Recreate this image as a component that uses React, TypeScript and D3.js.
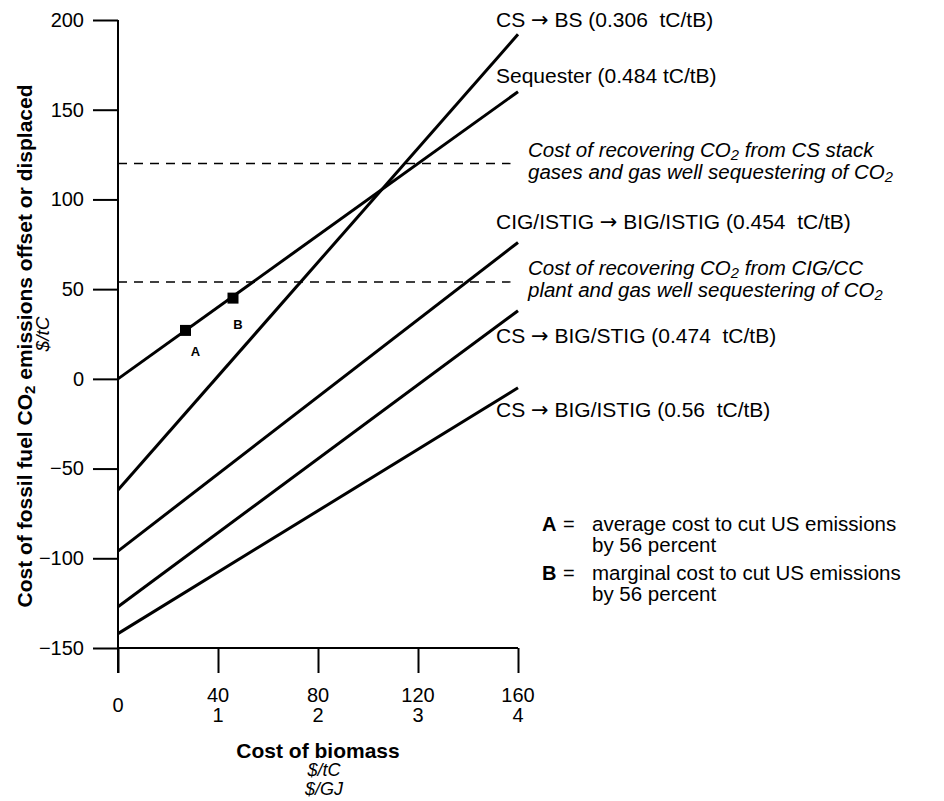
import { useEffect, useRef } from "react";
import * as d3 from "d3";

// line labels, cost of offset at biomass = 0 and at biomass = 160 $/tC
const seriesNames = [
  "CS → BS (0.306  tC/tB)",
  "Sequester (0.484 tC/tB)",
  "CIG/ISTIG → BIG/ISTIG (0.454  tC/tB)",
  "CS → BIG/STIG (0.474  tC/tB)",
  "CS → BIG/ISTIG (0.56  tC/tB)",
];
const startCost = [-62, 0, -96, -127, -142];
const endCost = [192, 160, 76, 38, -5];

// dashed reference costs and their notes
const dashedCost = [120, 54];
const dashedEnd = [157, 157];
const dashedNotes = [
  ["Cost of recovering CO2 from CS stack", "gases and gas well sequestering of CO2"],
  ["Cost of recovering CO2 from CIG/CC", "plant and gas well sequestering of CO2"],
];

// points A and B on the Sequester line
const pointNames = ["A", "B"];
const pointBiomass = [27, 46];
const pointCost = [27, 45];
const legendText = [
  ["average cost to cut US emissions", "by 56 percent"],
  ["marginal cost to cut US emissions", "by 56 percent"],
];

const yTicks = [200, 150, 100, 50, 0, -50, -100, -150];
const xTicksTC = [0, 40, 80, 120, 160];
const xTicksGJ = ["", "1", "2", "3", "4"];

const FONT = "'Liberation Sans', Arial, sans-serif";

// writes text lines into one <text>, with "CO2" subscripted
const addLines = (sel: any, lines: string[], x0: number, lh: number) => {
  lines.forEach((str, k) => {
    const parts = str.split("CO2");
    parts.forEach((p, i) => {
      if (i > 0) {
        sel.append("tspan").attr("dy", 3).attr("font-size", "0.72em").text("2");
        sel.append("tspan").attr("dy", -3).text(p);
      } else {
        sel.append("tspan").attr("x", x0).attr("dy", k === 0 ? 0 : lh).text(p);
      }
      if (i < parts.length - 1) sel.append("tspan").text("CO");
    });
  });
};

// writes a label, arrow drawn in DejaVu so it keeps its size
const addLabel = (sel: any, str: string) => {
  const parts = str.split("→");
  parts.forEach((p, i) => {
    if (i > 0) sel.append("tspan").attr("font-family", "'DejaVu Sans'").text("→");
    sel.append("tspan").text(p);
  });
};

const Chart = () => {
  const ref = useRef<SVGSVGElement | null>(null);

  const drawChart = () => {
    const svg = d3.select(ref.current);
    svg.selectAll("*").remove();

    const x = d3.scaleLinear().domain([0, 160]).range([118, 518]);
    const y = d3.scaleLinear().domain([-150, 200]).range([648, 20]);

    // y axis
    const yAxis = svg.append("g")
      .attr("transform", `translate(${x(0)},0)`)
      .call(d3.axisLeft(y).tickValues(yTicks).tickSize(25).tickPadding(9)
        .tickFormat((d: any) => (d < 0 ? "−" + Math.abs(d) : String(d))));
    yAxis.select(".domain").remove();
    yAxis.selectAll("line").attr("stroke", "#000").attr("stroke-width", 2);
    yAxis.selectAll("text").attr("font-family", FONT).attr("font-size", 20).attr("fill", "#000");

    svg.append("line")
      .attr("x1", x(0)).attr("x2", x(0))
      .attr("y1", y(200)).attr("y2", y(-150) + 25)
      .attr("stroke", "#000").attr("stroke-width", 2);

    // x axis
    const xAxis = svg.append("g")
      .attr("transform", `translate(0,${y(-150)})`)
      .call(d3.axisBottom(x).tickValues(xTicksTC).tickSize(25).tickFormat(() => ""));
    xAxis.select(".domain").remove();
    xAxis.selectAll("line").attr("stroke", "#000").attr("stroke-width", 2);
    svg.append("line")
      .attr("x1", x(0)).attr("x2", x(160))
      .attr("y1", y(-150)).attr("y2", y(-150))
      .attr("stroke", "#000").attr("stroke-width", 2);

    const xl = svg.append("g").attr("font-family", FONT).attr("font-size", 20).attr("text-anchor", "middle");
    xTicksTC.forEach((v, i) => {
      if (i === 0) {
        xl.append("text").attr("x", x(v)).attr("y", 712).text(String(v));
      } else {
        xl.append("text").attr("x", x(v)).attr("y", 702).text(String(v));
        xl.append("text").attr("x", x(v)).attr("y", 722).text(xTicksGJ[i]);
      }
    });

    // axis titles
    const mid = (x(0) + x(160)) / 2;
    svg.append("text").attr("x", mid).attr("y", 758).attr("text-anchor", "middle")
      .attr("font-family", FONT).attr("font-size", 21).attr("font-weight", "bold").text("Cost of biomass");
    const units = svg.append("text").attr("y", 776).attr("text-anchor", "middle")
      .attr("font-family", FONT).attr("font-size", 18).attr("font-style", "italic");
    units.append("tspan").attr("x", mid + 6).text("$/tC");
    units.append("tspan").attr("x", mid + 6).attr("dy", 19).text("$/GJ");

    const yt = svg.append("text")
      .attr("transform", `translate(32,${y(25) + 12}) rotate(-90)`)
      .attr("text-anchor", "middle").attr("font-family", FONT)
      .attr("font-size", 21).attr("font-weight", "bold");
    addLines(yt, ["Cost of fossil fuel CO2 emissions offset or displaced"], 0, 0);
    svg.append("text")
      .attr("transform", `translate(49,${y(25)}) rotate(-90)`)
      .attr("text-anchor", "middle").attr("font-family", FONT)
      .attr("font-size", 19).attr("font-style", "italic").text("$/tC");

    // dashed reference lines
    dashedCost.forEach((c, i) => {
      svg.append("line")
        .attr("x1", x(0)).attr("x2", x(dashedEnd[i]))
        .attr("y1", y(c)).attr("y2", y(c))
        .attr("stroke", "#000").attr("stroke-width", 1.4).attr("stroke-dasharray", "9,7");
      const tx = svg.append("text")
        .attr("y", y(c) - 7)
        .attr("font-family", FONT).attr("font-size", 20.5).attr("font-style", "italic");
      addLines(tx, dashedNotes[i], 528, 22);
    });

    // cost lines
    const line = d3.line<number[]>()
      .x(d => x(d[0]))
      .y(d => y(d[1]));
    const labelY = [27, 83, 229, 343, 417];
    seriesNames.forEach((name, i) => {
      svg.append("path")
        .datum([[0, startCost[i]], [160, endCost[i]]])
        .attr("fill", "none")
        .attr("stroke", "#000")
        .attr("stroke-width", 3)
        .attr("d", line);
      const t = svg.append("text")
        .attr("x", 496).attr("y", labelY[i])
        .attr("font-family", FONT).attr("font-size", 21)
        .style("white-space", "pre");
      addLabel(t, name);
    });

    // points A and B
    const size = 11;
    const labelOff = [[10, 26], [5, 31]];
    pointNames.forEach((p, i) => {
      svg.append("rect")
        .attr("x", x(pointBiomass[i]) - size / 2)
        .attr("y", y(pointCost[i]) - size / 2)
        .attr("width", size).attr("height", size)
        .attr("fill", "#000");
      svg.append("text")
        .attr("x", x(pointBiomass[i]) + labelOff[i][0])
        .attr("y", y(pointCost[i]) + labelOff[i][1])
        .attr("text-anchor", "middle")
        .attr("font-family", FONT).attr("font-size", 13).attr("font-weight", "bold")
        .text(p);
    });

    // legend
    const legY = [531, 580];
    pointNames.forEach((p, i) => {
      const t = svg.append("text").attr("y", legY[i])
        .attr("font-family", FONT).attr("font-size", 20.5);
      t.append("tspan").attr("x", 542).attr("font-weight", "bold").attr("font-size", 20).text(p);
      t.append("tspan").attr("x", 563).attr("font-size", 20).text("=");
      legendText[i].forEach((s, j) => {
        t.append("tspan").attr("x", 592).attr("dy", j === 0 ? 0 : 21).text(s);
      });
    });
  };

  useEffect(() => {
    drawChart();
  }, []);

  return (
    <svg
      ref={ref}
      width={944}
      height={801}
      style={{ position: "absolute", left: 0, top: 0, background: "#fff" }}
    />
  );
};

export default function App() {
  return <Chart />;
}
